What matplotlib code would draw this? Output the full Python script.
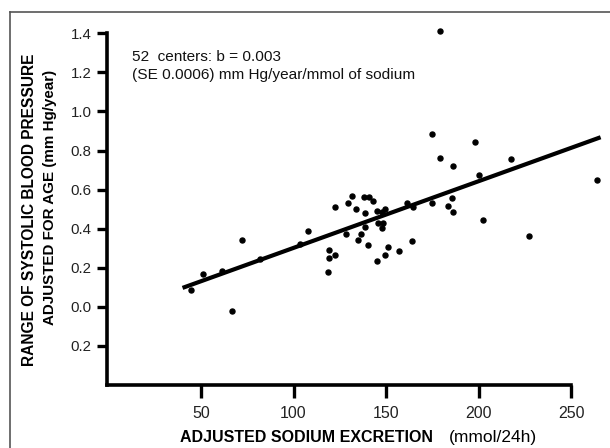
import matplotlib
matplotlib.use("Agg")
import matplotlib.pyplot as plt
from matplotlib.lines import Line2D

plt.rcParams['font.family'] = ['Liberation Sans', 'DejaVu Sans']

# Data: adjusted sodium excretion (mmol/24h) vs. range of SBP adjusted for age
sodium = [44.6, 51.1, 72.1, 66.5, 108.0, 122.6, 129.2, 131.8, 138.1, 140.8,
          142.7, 133.9, 138.5, 144.9, 149.7, 161.4, 164.5, 175.1, 183.6, 185.8,
          186.1, 202.5, 227.3, 263.9, 128.4, 136.3, 134.6, 138.7, 145.9, 148.1,
          147.6, 140.5, 119.0, 119.0, 122.6, 118.5, 145.1, 149.7, 151.1, 156.8,
          163.8, 179.3, 174.7, 198.2, 179.3, 186.0, 217.5, 200.1, 147.6, 61.3,
          81.9, 103.5]
sbp_range = [0.085, 0.167, 0.342, -0.022, 0.390, 0.509, 0.530, 0.565, 0.564, 0.560,
             0.543, 0.500, 0.482, 0.492, 0.503, 0.532, 0.511, 0.533, 0.516, 0.559,
             0.485, 0.445, 0.361, 0.647, 0.374, 0.371, 0.343, 0.407, 0.430, 0.427,
             0.403, 0.315, 0.289, 0.250, 0.265, 0.180, 0.234, 0.264, 0.304, 0.284,
             0.339, 1.413, 0.885, 0.846, 0.761, 0.720, 0.759, 0.674, 0.485, 0.182,
             0.244, 0.324]

# Regression line end points
fit_x = [40, 266]
fit_y = [0.097, 0.868]

x_ticks = [50, 100, 150, 200, 250]
x_ticklabels = ["50", "100", "150", "200", "250"]
y_ticks = [-0.2, 0.0, 0.2, 0.4, 0.6, 0.8, 1.0, 1.2, 1.4]
y_ticklabels = ["0.2", "0.0", "0.2", "0.4", "0.6", "0.8", "1.0", "1.2", "1.4"]

annotation_1 = "52  centers: b = 0.003"
annotation_2 = "(SE 0.0006) mm Hg/year/mmol of sodium"
ylabel_1 = "RANGE OF SYSTOLIC BLOOD PRESSURE"
ylabel_2 = "ADJUSTED FOR AGE (mm Hg/year)"
xlabel_bold = "ADJUSTED SODIUM EXCRETION"
xlabel_unit = "(mmol/24h)"

W, H = 610, 448
fig = plt.figure(figsize=(W / 100, H / 100), dpi=100)

ax_left, ax_right, ax_top, ax_bottom = 106.7, 608.0, 33.3, 385.0
ax = fig.add_axes([ax_left / W, 1 - ax_bottom / H,
                   (ax_right - ax_left) / W, (ax_bottom - ax_top) / H])

ax.plot(fit_x, fit_y, color='black', lw=3.0, solid_capstyle='butt',
        clip_on=False, zorder=3)
ax.plot(sodium, sbp_range, 'o', color='black', ms=3.6, mec='black',
        clip_on=False, zorder=4)

ax.set_xlim(-1, 270)
ax.set_ylim(-0.4, 1.4)

for s in ['top', 'right']:
    ax.spines[s].set_visible(False)
ax.spines['left'].set_linewidth(2.6)
ax.spines['bottom'].set_linewidth(2.6)
ax.spines['bottom'].set_bounds(-1, 250)
ax.spines['left'].set_bounds(-0.4, 1.4)
ax.spines['left'].set_capstyle('projecting')
ax.spines['bottom'].set_capstyle('projecting')

ax.set_xticks(x_ticks)
ax.set_xticklabels(x_ticklabels)
ax.set_yticks(y_ticks)
ax.set_yticklabels(y_ticklabels)
ax.tick_params(axis='x', direction='out', length=9, width=2.4, pad=6,
               labelsize=11.5, colors='black')
ax.tick_params(axis='y', direction='out', length=7.5, width=2.4, pad=3.5,
               labelsize=10.8, colors='black')
for lab in ax.get_xticklabels() + ax.get_yticklabels():
    lab.set_color('#222222')

# Annotation
fig.text(132 / W, 1 - 57 / H, annotation_1, fontsize=11.1, ha='left',
         va='center', color='#111111')
fig.text(132 / W, 1 - 75 / H, annotation_2, fontsize=11.1, ha='left',
         va='center', color='#111111')

# Y label (two lines)
fig.text(30 / W, 1 - 210 / H, ylabel_1, rotation=90, fontsize=11.2,
         fontweight='bold', ha='center', va='center')
fig.text(50 / W, 1 - 197 / H, ylabel_2, rotation=90, fontsize=10.9,
         fontweight='bold', ha='center', va='center')

# X label
fig.text(180 / W, 1 - 437 / H, xlabel_bold, fontsize=11.5, fontweight='bold',
         ha='left', va='center')
fig.text(449 / W, 1 - 437 / H, xlabel_unit, fontsize=12.5, ha='left',
         va='center')

# Outer frame (top and left edges)
fig.add_artist(Line2D([10 / W, 1.0], [1 - 12.5 / H, 1 - 12.5 / H],
                      transform=fig.transFigure, color='#555555', lw=1.2))
fig.add_artist(Line2D([10 / W, 10 / W], [1 - 12.5 / H, 0.0],
                      transform=fig.transFigure, color='#555555', lw=1.2))

fig.savefig('out.png', dpi=100)
